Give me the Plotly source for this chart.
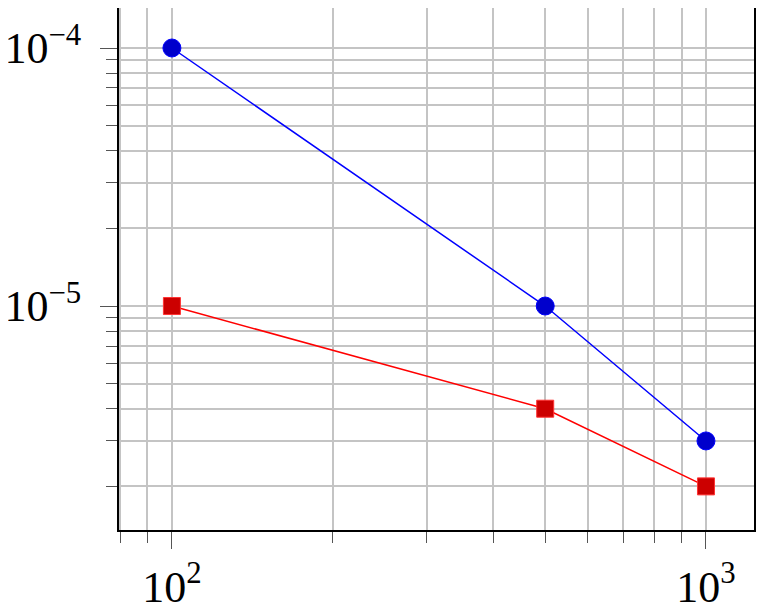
import numpy as np
import plotly.graph_objects as go

# data (log-log)
n = [100, 500, 1000]
err_blue = [1e-4, 1e-5, 3e-6]
err_red = [1e-5, 4e-6, 2e-6]

x_tickvals = [100, 1000]
x_ticktext = ["10<sup>2</sup>", "10<sup>3</sup>"]
y_tickvals = [1e-5, 1e-4]
y_ticktext = ["10<sup>\u22125</sup>", "10<sup>\u22124</sup>"]

font_family = "Liberation Serif"
grid_col = "#c4c4c4"

fig = go.Figure()
fig.add_trace(go.Scatter(x=n, y=err_blue, mode="lines+markers",
                         line=dict(color="#0000ff", width=1.5),
                         marker=dict(symbol="circle", size=18, color="#0000cc",
                                     line=dict(color="#0000ff", width=1))))
fig.add_trace(go.Scatter(x=n, y=err_red, mode="lines+markers",
                         line=dict(color="#ff0000", width=1.5),
                         marker=dict(symbol="square", size=17, color="#cc0000",
                                     line=dict(color="#ff3333", width=1))))

axis_common = dict(
    showline=True, linecolor="black", linewidth=2, mirror=True,
    showgrid=True, gridcolor=grid_col, gridwidth=1.5,
    ticks="outside", ticklen=17, tickwidth=1, tickcolor="#555",
    tickfont=dict(family=font_family, size=44, color="black"),
    zeroline=False, automargin=False,
    minor=dict(dtick="D1", showgrid=True, gridcolor=grid_col, gridwidth=1.5,
               ticks="outside", ticklen=11, tickwidth=1, tickcolor="#555"),
)

fig.update_xaxes(type="log", range=[np.log10(79.6), np.log10(1230)],
                 tickvals=x_tickvals, ticktext=x_ticktext, **axis_common)
fig.update_yaxes(type="log", range=[-5.868, -3.845],
                 tickvals=y_tickvals, ticktext=y_ticktext,
                 ticklabelstandoff=10, **axis_common)

# the page puts the figure 8px in from the top-left corner
fig.update_layout(
    width=756, height=595,
    margin=dict(l=111, r=10, t=0, b=73),
    paper_bgcolor="white", plot_bgcolor="white",
    showlegend=False,
)

fig.write_html("out.html")
